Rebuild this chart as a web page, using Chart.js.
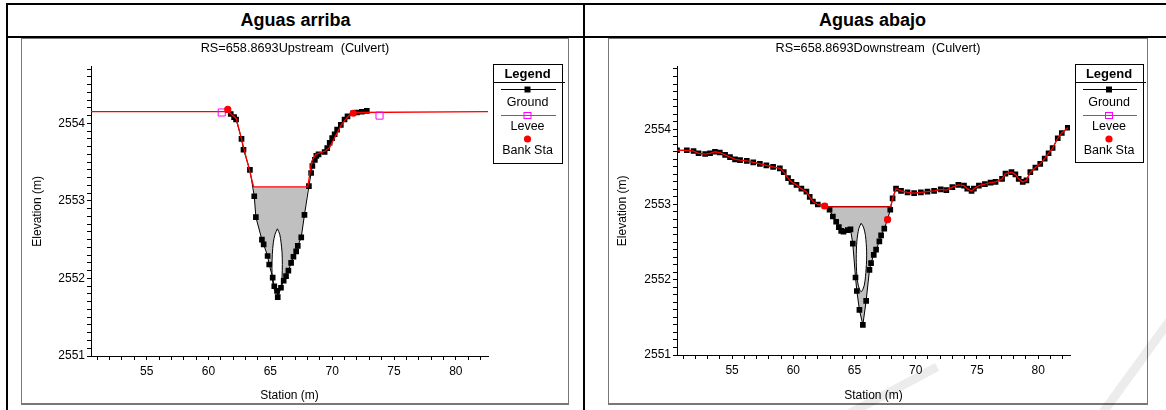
<!DOCTYPE html>
<html>
<head>
<meta charset="utf-8">
<script src="https://cdn.jsdelivr.net/npm/chart.js@4.4.1/dist/chart.umd.min.js"></script>
<style>
  html, body { margin: 0; padding: 0; background: #fff; }
  body { width: 1166px; height: 410px; overflow: hidden; position: relative; font-family: Arial, "Liberation Sans", sans-serif; }
  .ln { position: absolute; background: #000; }
  .hd { position: absolute; top: 9px; height: 22px; line-height: 22px; font-size: 18px; font-weight: bold; text-align: center; }
  .frame { position: absolute; top: 38px; border: 1px solid #777; border-bottom-width: 2px; background: #fff; }
  .frame canvas { display: block; }
  .wm { position: absolute; height: 9px; background: rgba(0,0,0,0.075); transform-origin: 0 50%; }
</style>
</head>
<body>
<div class="ln" style="left:6px;top:3px;width:1160px;height:2px"></div>
<div class="ln" style="left:6px;top:36px;width:1160px;height:2px"></div>
<div class="ln" style="left:6px;top:3px;width:2px;height:407px"></div>
<div class="ln" style="left:583px;top:3px;width:2px;height:407px"></div>
<div class="hd" style="left:8px;width:575px">Aguas arriba</div>
<div class="hd" style="left:585px;width:575px">Aguas abajo</div>

<div class="frame" style="left:21px;width:546px;height:364px"><canvas id="up" width="546" height="364"></canvas></div>
<div class="frame" style="left:608px;width:538px;height:364px"><canvas id="down" width="538" height="364"></canvas></div>

<div class="wm" style="left:1100px;top:412px;width:125px;transform:rotate(-54deg)"></div>
<div class="wm" style="left:840px;top:414px;width:110px;transform:rotate(-28deg)"></div>

<script>
const FONT = 'Arial, "Liberation Sans", sans-serif';

// axis limits
const xMin = 50.5, xMax = 82.6;
const yMin = 2551;
const upYMax = 2554.73, dnYMax = 2554.83;
const legendLabels = ['Ground', 'Levee', 'Bank Sta'];

// ---- upstream section
const upTitle = 'RS=658.8693Upstream  (Culvert)';
const upGroundSta = [61.56, 61.8, 62.07, 62.23, 62.67, 62.83, 63.35, 63.7, 63.83, 64.32, 64.46, 64.78, 64.91, 65.19, 65.32, 65.54, 65.6,
  65.86, 66.08, 66.27, 66.46, 66.68, 66.87, 67.09, 67.22, 67.5, 67.76, 68.12, 68.3, 68.4, 68.6, 68.72, 68.9, 69.39, 69.6, 69.8,
  70.0, 70.2, 70.4, 70.7, 71.0, 71.24, 71.7, 72.0, 72.4, 72.8];
const upGroundElev = [2554.17, 2554.12, 2554.08, 2554.05, 2553.80, 2553.66, 2553.40, 2553.06, 2552.79, 2552.50, 2552.44, 2552.29, 2552.18, 2552.01, 2551.90, 2551.84, 2551.76,
  2551.88, 2551.97, 2552.03, 2552.10, 2552.20, 2552.28, 2552.35, 2552.42, 2552.53, 2552.82, 2553.19, 2553.36, 2553.45, 2553.53, 2553.58, 2553.60, 2553.63, 2553.68, 2553.75,
  2553.81, 2553.86, 2553.92, 2553.98, 2554.05, 2554.09, 2554.13, 2554.14, 2554.15, 2554.16];
const upDeckSta = [50.5, 61.6, 62.25, 63.65, 68.03, 68.34, 68.67, 69.4, 69.8, 70.74, 71.28, 71.7, 82.6];
const upDeckElev = [2554.15, 2554.15, 2554.06, 2553.18, 2553.18, 2553.51, 2553.60, 2553.64, 2553.69, 2553.98, 2554.09, 2554.14, 2554.15];
const upLowChord = 2553.18, upLowLeft = 63.65, upLowRight = 68.03;
const upCulvSta = [65.57, 65.38, 65.24, 65.16, 65.13, 65.16, 65.27, 65.48, 65.7, 65.87, 65.95, 65.97, 65.95, 65.87, 65.76, 65.57];
const upCulvElev = [2552.64, 2552.57, 2552.46, 2552.31, 2552.14, 2552.01, 2551.88, 2551.82, 2551.84, 2551.90, 2552.03, 2552.18, 2552.33, 2552.46, 2552.57, 2552.64];
const upLeveeSta = [61.07, 73.83];
const upLeveeElev = [2554.14, 2554.10];
const upBankSta = [61.56, 71.7];
const upBankElev = [2554.18, 2554.13];

// ---- downstream section
const dnTitle = 'RS=658.8693Downstream  (Culvert)';
const dnGroundSta = [50.5, 51.3, 51.85, 52.26, 52.8, 53.2, 53.6, 54.0, 54.43, 54.83, 55.24, 55.65, 56.2, 56.73, 57.27, 57.8, 58.35, 58.9, 59.22, 59.57,
  59.85, 60.26, 60.66, 61.07, 61.34, 61.6, 62.0, 62.56, 62.96, 63.23, 63.5, 63.72, 63.91, 64.1, 64.45, 64.67, 64.86, 65.08, 65.19, 65.4,
  65.68, 65.95, 66.22, 66.35, 66.57, 66.76, 67.03, 67.17, 67.43, 67.7, 67.92, 68.11, 68.39, 68.8, 69.33, 69.87, 70.42, 70.96, 71.5, 72.04,
  72.5, 72.99, 73.48, 73.94, 74.21, 74.56, 74.75, 75.16, 75.65, 76.11, 76.52, 77.05, 77.33, 77.82, 78.14, 78.41, 78.74, 79.04, 79.36, 79.77,
  80.17, 80.53, 80.85, 81.18, 81.6, 81.93, 82.42];
const dnGroundElev = [2553.72, 2553.72, 2553.71, 2553.68, 2553.67, 2553.68, 2553.70, 2553.69, 2553.66, 2553.63, 2553.60, 2553.59, 2553.58, 2553.56, 2553.54, 2553.52, 2553.50, 2553.48, 2553.43, 2553.35,
  2553.30, 2553.26, 2553.21, 2553.17, 2553.10, 2553.04, 2553.00, 2552.98, 2552.93, 2552.84, 2552.77, 2552.70, 2552.65, 2552.64, 2552.66, 2552.67, 2552.48, 2552.03, 2551.85, 2551.60,
  2551.40, 2551.72, 2552.13, 2552.22, 2552.33, 2552.40, 2552.51, 2552.59, 2552.68, 2552.80, 2552.93, 2553.08, 2553.21, 2553.18, 2553.16, 2553.15, 2553.16, 2553.17, 2553.18, 2553.20,
  2553.19, 2553.23, 2553.26, 2553.25, 2553.21, 2553.18, 2553.21, 2553.25, 2553.27, 2553.29, 2553.30, 2553.34, 2553.41, 2553.43, 2553.40, 2553.34, 2553.30, 2553.32, 2553.43, 2553.49,
  2553.54, 2553.61, 2553.68, 2553.75, 2553.88, 2553.95, 2554.02];
const dnLowChord = 2552.97, dnLowLeft = 62.56, dnLowRight = 67.95;
const dnCulvSta = [65.54, 65.35, 65.19, 65.14, 65.19, 65.3, 65.54, 65.8, 65.95, 65.99, 65.89, 65.73, 65.54];
const dnCulvElev = [2552.75, 2552.68, 2552.51, 2552.28, 2552.06, 2551.93, 2551.84, 2551.93, 2552.15, 2552.37, 2552.59, 2552.70, 2552.75];
const dnLeveeSta = [];
const dnLeveeElev = [];
const dnBankSta = [62.56, 67.7];
const dnBankElev = [2552.98, 2552.80];

function pts(sta, el) {
  return sta.map((x, i) => ({ x: x, y: el[i] }));
}

// area under the low chord, closed along the ground
function chordFill(gSta, gEl, left, right, elev) {
  const inner = pts(gSta, gEl).filter(p => p.x > left && p.x < right);
  return [{ x: left, y: elev }].concat(inner, [{ x: right, y: elev }]);
}

const legendBox = {
  id: 'legendBox',
  afterDraw(chart, args, opts) {
    const ctx = chart.ctx;
    const L = opts.x, T = opts.y, W = opts.w, H = opts.h;
    const cx = L + W / 2;
    ctx.save();
    ctx.strokeStyle = '#000';
    ctx.lineWidth = 1;
    ctx.strokeRect(L + 0.5, T + 0.5, W, H);
    ctx.beginPath();
    ctx.moveTo(L, T + 18.5);
    ctx.lineTo(L + W + 3, T + 18.5);
    ctx.stroke();
    ctx.fillStyle = '#000';
    ctx.textAlign = 'center';
    ctx.textBaseline = 'middle';
    ctx.font = 'bold 13px ' + FONT;
    ctx.fillText('Legend', cx, T + 10);
    ctx.font = '12.5px ' + FONT;
    // ground sample
    ctx.beginPath();
    ctx.moveTo(L + 8, T + 25.5);
    ctx.lineTo(L + W - 6, T + 25.5);
    ctx.stroke();
    ctx.fillRect(cx - 3, T + 22.5, 6, 6);
    ctx.fillText(legendLabels[0], cx, T + 39);
    // levee sample
    ctx.strokeStyle = '#ff00ff';
    ctx.beginPath();
    ctx.moveTo(L + 8, T + 51.5);
    ctx.lineTo(L + W - 6, T + 51.5);
    ctx.stroke();
    ctx.strokeRect(cx - 3.5, T + 48.5, 7, 6);
    ctx.fillText(legendLabels[1], cx, T + 63);
    // bank station sample
    ctx.fillStyle = '#ff0000';
    ctx.beginPath();
    ctx.arc(cx, T + 75, 3.6, 0, Math.PI * 2);
    ctx.fill();
    ctx.fillStyle = '#000';
    ctx.fillText(legendLabels[2], cx, T + 87);
    ctx.restore();
  }
};

function isWhole(v, step) {
  const r = v / step;
  return Math.abs(r - Math.round(r)) < 1e-6;
}

function drawSection(id, s) {
  const tickFont = { family: FONT, size: 12 };
  const datasets = [
    { label: 'Bank Sta', data: pts(s.bankSta, s.bankElev), showLine: false, pointStyle: 'circle', pointRadius: 3.6,
      backgroundColor: '#ff0000', borderColor: '#ff0000', pointBorderWidth: 0, order: 0 },
    { label: 'Levee', data: pts(s.leveeSta, s.leveeElev), showLine: false, pointStyle: 'rect', pointRadius: 5,
      backgroundColor: 'rgba(0,0,0,0)', borderColor: '#ff00ff', pointBorderWidth: 1, order: 1 },
    { label: 'Deck', data: s.deck, showLine: true, pointRadius: 0, borderColor: '#ff0000', borderWidth: 1.3,
      segment: { borderColor: c => (c.p1.parsed.x - c.p0.parsed.x > 2 && Math.abs(c.p1.parsed.y - c.p0.parsed.y) < 0.05) ? s.chordColor : '#ff0000' },
      order: 2 },
    { label: 'Ground', data: pts(s.groundSta, s.groundElev), showLine: true, borderColor: '#000', borderWidth: 1,
      pointStyle: 'rect', pointRadius: 4, backgroundColor: '#000', pointBorderWidth: 0, order: 3 },
    { label: 'Culvert', data: pts(s.culvSta, s.culvElev), showLine: true, fill: 'shape', tension: 0.3,
      backgroundColor: '#ffffff', borderColor: '#000', borderWidth: 1, pointRadius: 0, order: 4 },
    { label: 'Fill', data: s.fill, showLine: true, fill: 'shape', backgroundColor: '#c0c0c0',
      borderColor: 'rgba(0,0,0,0)', borderWidth: 0, pointRadius: 0, order: 5 }
  ];

  new Chart(document.getElementById(id), {
    type: 'scatter',
    data: { datasets: datasets },
    options: {
      responsive: false,
      animation: false,
      devicePixelRatio: 1,
      layout: { padding: 0 },
      plugins: {
        legend: { display: false },
        tooltip: { enabled: false },
        title: {
          display: true,
          text: s.title,
          color: '#000',
          font: { family: FONT, size: 12.7, weight: 'normal' },
          padding: { top: 2, bottom: 10.5 }
        },
        legendBox: s.legend
      },
      scales: {
        x: {
          type: 'linear',
          min: xMin,
          max: xMax,
          ticks: {
            stepSize: 1, autoSkip: false, maxRotation: 0, includeBounds: false,
            callback: v => isWhole(v, 5) ? String(Math.round(v)) : '',
            color: '#000', font: tickFont, padding: 4
          },
          grid: { drawOnChartArea: false, drawTicks: true, tickLength: 4, color: '#000' },
          border: { display: true, color: '#000' },
          title: { display: true, text: 'Station (m)', color: '#000', font: tickFont, padding: { top: 0, bottom: 0 } },
          afterFit: sc => { sc.height = s.xAxisHeight; }
        },
        y: {
          type: 'linear',
          min: yMin,
          max: s.yMax,
          ticks: {
            stepSize: 0.1, autoSkip: false, includeBounds: false,
            callback: v => isWhole(v, 1) ? String(Math.round(v)) : '',
            color: '#000', font: tickFont, padding: 2
          },
          grid: { drawOnChartArea: false, drawTicks: true, tickLength: 4, color: '#000' },
          border: { display: true, color: '#000' },
          title: { display: true, text: 'Elevation (m)', color: '#000', font: tickFont, padding: { top: s.yTitlePad, bottom: 0 } },
          afterFit: sc => { sc.width = s.yAxisWidth; }
        },
        side: {
          type: 'linear',
          position: 'right',
          ticks: { display: false },
          grid: { display: false },
          border: { display: false },
          afterFit: sc => { sc.width = s.rightSpace; }
        }
      }
    },
    plugins: [legendBox]
  });
}

drawSection('up', {
  title: upTitle,
  yMax: upYMax,
  groundSta: upGroundSta, groundElev: upGroundElev,
  deck: pts(upDeckSta, upDeckElev),
  fill: chordFill(upGroundSta, upGroundElev, upLowLeft, upLowRight, upLowChord),
  culvSta: upCulvSta, culvElev: upCulvElev,
  leveeSta: upLeveeSta, leveeElev: upLeveeElev,
  bankSta: upBankSta, bankElev: upBankElev,
  chordColor: '#ff0000',
  yAxisWidth: 69, rightSpace: 80, yTitlePad: 8, xAxisHeight: 47,
  legend: { x: 471, y: 25, w: 69, h: 99 }
});

const dnGround = pts(dnGroundSta, dnGroundElev);
const dnDeck = dnGround.filter(p => p.x <= dnLowLeft)
  .concat([{ x: dnLowLeft, y: dnLowChord }, { x: dnLowRight, y: dnLowChord }], dnGround.filter(p => p.x > dnLowRight));

drawSection('down', {
  title: dnTitle,
  yMax: dnYMax,
  groundSta: dnGroundSta, groundElev: dnGroundElev,
  deck: dnDeck,
  fill: chordFill(dnGroundSta, dnGroundElev, dnLowLeft, dnLowRight, dnLowChord),
  culvSta: dnCulvSta, culvElev: dnCulvElev,
  leveeSta: dnLeveeSta, leveeElev: dnLeveeElev,
  bankSta: dnBankSta, bankElev: dnBankElev,
  chordColor: '#c00000',
  yAxisWidth: 68, rightSpace: 77, yTitlePad: 6, xAxisHeight: 48,
  legend: { x: 466, y: 25, w: 68, h: 98 }
});
</script>
</body>
</html>
